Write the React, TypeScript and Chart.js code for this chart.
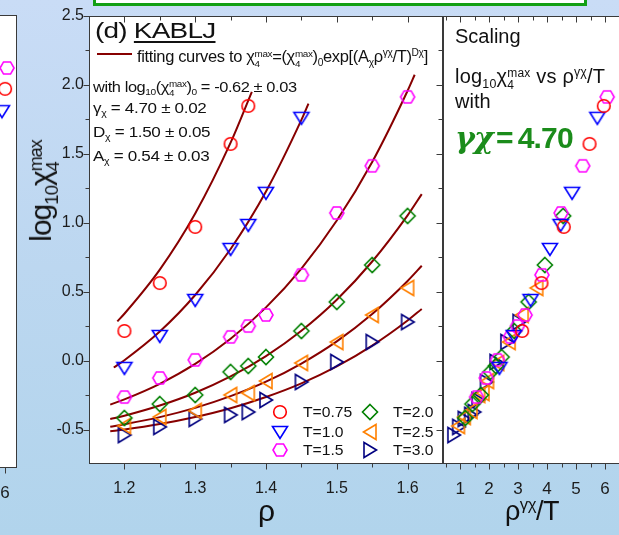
import React, { useEffect, useRef } from 'react';
import { Chart, registerables } from 'chart.js';

Chart.register(...registerables);

// ---------------- data ----------------
const RHO_075 = [1.2, 1.25, 1.3, 1.35, 1.375];
const LOGCHI_075 = [0.215, 0.563, 0.97, 1.572, 1.848];
const RHO_100 = [1.2, 1.25, 1.3, 1.35, 1.375, 1.4, 1.45];
const LOGCHI_100 = [-0.053, 0.179, 0.44, 0.81, 0.984, 1.217, 1.761];
const RHO_ALL = [1.2, 1.25, 1.3, 1.35, 1.375, 1.4, 1.45, 1.5, 1.55, 1.6];
const LOGCHI_150 = [-0.264, -0.126, 0.005, 0.172, 0.251, 0.331, 0.622, 1.071, 1.413, 1.913];
const LOGCHI_200 = [-0.416, -0.315, -0.249, -0.082, -0.039, 0.026, 0.215, 0.426, 0.694, 1.05];
const LOGCHI_250 = [-0.474, -0.409, -0.365, -0.249, -0.235, -0.148, -0.017, 0.135, 0.331, 0.527];
const LOGCHI_300 = [-0.54, -0.481, -0.423, -0.394, -0.373, -0.286, -0.155, -0.01, 0.135, 0.28];

// fitted curves
const FIT_RHO_075 = [1.19, 1.2, 1.25, 1.3, 1.35, 1.38];
const FIT_075 = [0.285, 0.34, 0.66, 1.067, 1.581, 1.95];
const FIT_RHO_100 = [1.185, 1.2, 1.25, 1.3, 1.35, 1.4, 1.45, 1.46];
const FIT_100 = [-0.05, 0.003, 0.211, 0.476, 0.81, 1.227, 1.746, 1.864];
const FIT_RHO_150 = [1.18, 1.2, 1.25, 1.3, 1.35, 1.4, 1.45, 1.5, 1.55, 1.6, 1.61];
const FIT_150 = [-0.319, -0.281, -0.168, -0.024, 0.158, 0.386, 0.668, 1.016, 1.441, 1.958, 2.074];
const FIT_RHO_HIGH = [1.18, 1.2, 1.25, 1.3, 1.35, 1.4, 1.45, 1.5, 1.55, 1.6, 1.62];
const FIT_200 = [-0.424, -0.4, -0.326, -0.233, -0.115, 0.033, 0.217, 0.442, 0.719, 1.054, 1.208];
const FIT_250 = [-0.48, -0.462, -0.41, -0.343, -0.258, -0.153, -0.021, 0.14, 0.338, 0.578, 0.688];
const FIT_300 = [-0.513, -0.5, -0.46, -0.409, -0.345, -0.264, -0.165, -0.042, 0.109, 0.291, 0.375];

const GAMMA = 4.7;

// fragment of the neighbouring panel at the left edge
const LEFT_X = [6.09, 6.01, 5.88];
const LEFT_Y = [2.12, 1.97, 1.81];

// ticks
const X_TICKS_MAIN = [1.2, 1.3, 1.4, 1.5, 1.6];
const X_LABELS_MAIN = ['1.2', '1.3', '1.4', '1.5', '1.6'];
const X_MINOR_MAIN = [1.25, 1.35, 1.45, 1.55];
const Y_TICKS = [-0.5, 0, 0.5, 1, 1.5, 2, 2.5];
const Y_LABELS = ['-0.5', '0.0', '0.5', '1.0', '1.5', '2.0', '2.5'];
const Y_MINOR = [-0.25, 0.25, 0.75, 1.25, 1.75, 2.25];
const X_TICKS_SCALED = [1, 2, 3, 4, 5, 6];
const X_LABELS_SCALED = ['1', '2', '3', '4', '5', '6'];
const X_MINOR_SCALED = [0.5, 1.5, 2.5, 3.5, 4.5, 5.5, 6.5];
const X_TICKS_LEFT = [6];
const X_LABELS_LEFT = ['6'];

// ---------------- styling ----------------
const FONT = '"Liberation Sans", Arial, Helvetica, sans-serif';
const AXIS = '#3a3a3a';
const FIT_COLOR = '#870000';

type Shape = 'circle' | 'down' | 'hex' | 'diamond' | 'left' | 'right';

const SERIES: { label: string; T: number; rho: number[]; y: number[]; fitRho: number[]; fit: number[]; color: string; shape: Shape }[] = [
  { label: 'T=0.75', T: 0.75, rho: RHO_075, y: LOGCHI_075, fitRho: FIT_RHO_075, fit: FIT_075, color: '#ff0000', shape: 'circle' },
  { label: 'T=1.0', T: 1.0, rho: RHO_100, y: LOGCHI_100, fitRho: FIT_RHO_100, fit: FIT_100, color: '#0000ff', shape: 'down' },
  { label: 'T=1.5', T: 1.5, rho: RHO_ALL, y: LOGCHI_150, fitRho: FIT_RHO_150, fit: FIT_150, color: '#ff00ff', shape: 'hex' },
  { label: 'T=2.0', T: 2.0, rho: RHO_ALL, y: LOGCHI_200, fitRho: FIT_RHO_HIGH, fit: FIT_200, color: '#008000', shape: 'diamond' },
  { label: 'T=2.5', T: 2.5, rho: RHO_ALL, y: LOGCHI_250, fitRho: FIT_RHO_HIGH, fit: FIT_250, color: '#ff8000', shape: 'left' },
  { label: 'T=3.0', T: 3.0, rho: RHO_ALL, y: LOGCHI_300, fitRho: FIT_RHO_HIGH, fit: FIT_300, color: '#000080', shape: 'right' },
];

function makeMarker(shape: Shape, color: string): HTMLCanvasElement {
  const size = 20;
  const c = document.createElement('canvas');
  c.width = size;
  c.height = size;
  const g = c.getContext('2d') as CanvasRenderingContext2D;
  const m = size / 2;
  g.strokeStyle = color;
  g.lineWidth = 1.6;
  g.beginPath();
  if (shape === 'circle') {
    g.arc(m, m, 6.3, 0, Math.PI * 2);
  } else if (shape === 'down') {
    g.moveTo(m - 7.5, m - 5.5);
    g.lineTo(m + 7.5, m - 5.5);
    g.lineTo(m, m + 6.5);
    g.closePath();
  } else if (shape === 'left') {
    g.moveTo(m - 6.5, m);
    g.lineTo(m + 6, m - 7.5);
    g.lineTo(m + 6, m + 7.5);
    g.closePath();
  } else if (shape === 'right') {
    g.moveTo(m + 6.5, m);
    g.lineTo(m - 6, m - 7.5);
    g.lineTo(m - 6, m + 7.5);
    g.closePath();
  } else if (shape === 'diamond') {
    g.moveTo(m, m - 7.5);
    g.lineTo(m + 7.5, m);
    g.lineTo(m, m + 7.5);
    g.lineTo(m - 7.5, m);
    g.closePath();
  } else {
    for (let i = 0; i < 6; i++) {
      const a = (Math.PI / 3) * i;
      const px = m + 7 * Math.cos(a);
      const py = m + 7 * Math.sin(a);
      if (i === 0) g.moveTo(px, py);
      else g.lineTo(px, py);
    }
    g.closePath();
  }
  g.stroke();
  return c;
}

type Side = 'out' | 'in' | 'none';
interface FrameCfg {
  xMajor: number[];
  xMinor: number[];
  yMajor: number[];
  yMinor: number[];
  left: Side;
  right: Side;
  top: Side;
  bottom: Side;
  borders: { left: boolean; right: boolean; top: boolean; bottom: boolean };
}

function framePlugin(cfg: FrameCfg) {
  return {
    id: 'frame',
    beforeDraw(chart: any) {
      const { ctx, chartArea: a } = chart;
      ctx.save();
      ctx.fillStyle = '#ffffff';
      ctx.fillRect(a.left, a.top, a.right - a.left, a.bottom - a.top);
      ctx.restore();
    },
    afterDraw(chart: any) {
      const { ctx, chartArea: a, scales } = chart;
      const xs = scales.x;
      const ys = scales.y;
      const L = Math.round(a.left) + 0.5;
      const R = Math.round(a.right) - 0.5;
      const T = Math.round(a.top) + 0.5;
      const B = Math.round(a.bottom) - 0.5;
      ctx.save();
      ctx.strokeStyle = AXIS;
      ctx.lineWidth = 1;
      ctx.beginPath();
      const seg = (x1: number, y1: number, x2: number, y2: number) => {
        ctx.moveTo(x1, y1);
        ctx.lineTo(x2, y2);
      };
      if (cfg.borders.left) seg(L, T - 0.5, L, B + 0.5);
      if (cfg.borders.right) seg(R, T - 0.5, R, B + 0.5);
      if (cfg.borders.top) seg(L - 0.5, T, R + 0.5, T);
      if (cfg.borders.bottom) seg(L - 0.5, B, R + 0.5, B);
      const xTicks = (vals: number[], len: number) => {
        vals.forEach((v) => {
          const p = Math.round(xs.getPixelForValue(v)) + 0.5;
          if (p < a.left - 1 || p > a.right + 1) return;
          if (cfg.bottom === 'out') seg(p, B, p, B + len);
          if (cfg.bottom === 'in') seg(p, B, p, B - len);
          if (cfg.top === 'in') seg(p, T, p, T + len);
          if (cfg.top === 'out') seg(p, T, p, T - len);
        });
      };
      const yTicks = (vals: number[], len: number) => {
        vals.forEach((v) => {
          const p = Math.round(ys.getPixelForValue(v)) + 0.5;
          if (p < a.top - 1 || p > a.bottom + 1) return;
          if (cfg.left === 'out') seg(L, p, L - len, p);
          if (cfg.left === 'in') seg(L, p, L + len, p);
          if (cfg.right === 'in') seg(R, p, R - len, p);
          if (cfg.right === 'out') seg(R, p, R + len, p);
        });
      };
      xTicks(cfg.xMajor, 6);
      xTicks(cfg.xMinor, 4);
      yTicks(cfg.yMajor, 6);
      yTicks(cfg.yMinor, 4);
      ctx.stroke();
      ctx.restore();
    },
  };
}

function legendPlugin(markers: HTMLCanvasElement[]) {
  // marker offsets relative to the chart area (2 columns x 3 rows)
  const cols = [191, 281];
  const rows = [396, 416, 434];
  return {
    id: 'legendMarkers',
    afterDraw(chart: any) {
      const { ctx, chartArea: a } = chart;
      markers.forEach((mk, i) => {
        const cx = a.left + cols[Math.floor(i / 3)];
        const cy = a.top + rows[i % 3];
        ctx.drawImage(mk, cx - mk.width / 2, cy - mk.height / 2);
      });
    },
  };
}

function labelFrom(ticks: number[], labels: string[]) {
  return (v: any) => {
    const i = ticks.findIndex((t) => Math.abs(t - Number(v)) < 1e-9);
    return i >= 0 ? labels[i] : '';
  };
}

function xScale(min: number, max: number, ticks: number[], labels: string[], height: number, size: number) {
  return {
    type: 'linear',
    min,
    max,
    grid: { display: false, drawTicks: false },
    border: { display: false },
    ticks: {
      padding: 15,
      autoSkip: false,
      maxRotation: 0,
      color: '#1c1c1c',
      font: { family: FONT, size },
      callback: labelFrom(ticks, labels),
    },
    afterBuildTicks: (s: any) => {
      s.ticks = ticks.map((v) => ({ value: v }));
    },
    afterFit: (s: any) => {
      s.height = height;
      s.paddingLeft = 0;
      s.paddingRight = 0;
    },
  };
}

function yScale(display: boolean, width: number) {
  return {
    type: 'linear',
    min: -0.75,
    max: 2.5,
    display,
    grid: { display: false, drawTicks: false },
    border: { display: false },
    ticks: {
      padding: 5,
      autoSkip: false,
      color: '#1c1c1c',
      font: { family: FONT, size: 16 },
      callback: labelFrom(Y_TICKS, Y_LABELS),
    },
    afterBuildTicks: (s: any) => {
      s.ticks = Y_TICKS.map((v) => ({ value: v }));
    },
    afterFit: (s: any) => {
      if (display) s.width = width;
      s.paddingTop = 0;
      s.paddingBottom = 0;
    },
  };
}

// ---------------- text helpers ----------------
const Sub = ({ children }: any) => (
  <span style={{ fontSize: '0.62em', position: 'relative', top: '0.35em' }}>{children}</span>
);
const Sup = ({ children }: any) => (
  <span style={{ fontSize: '0.62em', position: 'relative', top: '-0.6em' }}>{children}</span>
);
const SS = ({ sub, sup }: any) => (
  <span
    style={{
      display: 'inline-block',
      fontSize: '0.6em',
      lineHeight: 0.95,
      position: 'relative',
      top: '0.45em',
      verticalAlign: 'baseline',
      textAlign: 'left',
    }}
  >
    <span style={{ display: 'block' }}>{sup}</span>
    <span style={{ display: 'block' }}>{sub}</span>
  </span>
);

function Txt({ left, base, size, sx = 1, children, style }: any) {
  return (
    <div
      style={{
        position: 'absolute',
        left,
        top: base - 0.85 * size,
        fontSize: size,
        lineHeight: 1,
        whiteSpace: 'nowrap',
        fontFamily: FONT,
        color: '#111',
        transform: sx !== 1 ? `scaleX(${sx})` : undefined,
        transformOrigin: 'left center',
        ...style,
      }}
    >
      {children}
    </div>
  );
}

export default function App() {
  const mainRef = useRef<HTMLCanvasElement>(null);
  const rightRef = useRef<HTMLCanvasElement>(null);
  const leftRef = useRef<HTMLCanvasElement>(null);

  useEffect(() => {
    const markers = SERIES.map((s) => makeMarker(s.shape, s.color));

    const pointSets = SERIES.map((s, i) => ({
      label: s.label,
      data: s.rho.map((r, j) => ({ x: r, y: s.y[j] })),
      pointStyle: markers[i],
      pointRadius: 7,
      showLine: false,
      order: 0,
    }));
    const fitSets = SERIES.map((s) => ({
      label: 'fit ' + s.label,
      data: s.fitRho.map((r, j) => ({ x: r, y: s.fit[j] })),
      showLine: true,
      pointRadius: 0,
      borderColor: FIT_COLOR,
      borderWidth: 2,
      cubicInterpolationMode: 'monotone',
      order: 1,
    }));

    const common = {
      animation: false,
      responsive: false,
      maintainAspectRatio: false,
      events: [],
      plugins: { legend: { display: false }, tooltip: { enabled: false } },
    };

    const main = new Chart(mainRef.current as HTMLCanvasElement, {
      type: 'scatter',
      data: { datasets: [...pointSets, ...fitSets] as any },
      options: {
        ...common,
        layout: { autoPadding: false, padding: { left: 0, right: 2, top: 16, bottom: 0 } },
        scales: {
          x: xScale(1.15, 1.65, X_TICKS_MAIN, X_LABELS_MAIN, 71, 16) as any,
          y: yScale(true, 44) as any,
        },
      } as any,
      plugins: [
        framePlugin({
          xMajor: X_TICKS_MAIN,
          xMinor: X_MINOR_MAIN,
          yMajor: Y_TICKS,
          yMinor: Y_MINOR,
          left: 'out',
          right: 'in',
          top: 'in',
          bottom: 'out',
          borders: { left: true, right: true, top: true, bottom: true },
        }),
        legendPlugin(markers),
      ] as any,
    });

    const scaledSets = SERIES.map((s, i) => ({
      label: s.label,
      data: s.rho.map((r, j) => ({ x: Math.pow(r, GAMMA) / s.T, y: s.y[j] })),
      pointStyle: markers[i],
      pointRadius: 7,
      showLine: false,
    }));

    const right = new Chart(rightRef.current as HTMLCanvasElement, {
      type: 'scatter',
      data: { datasets: scaledSets as any },
      options: {
        ...common,
        layout: { autoPadding: false, padding: { left: 3, right: 0, top: 16, bottom: 0 } },
        scales: {
          x: xScale(0.41, 6.86, X_TICKS_SCALED, X_LABELS_SCALED, 71, 17) as any,
          y: yScale(false, 0) as any,
        },
      } as any,
      plugins: [
        framePlugin({
          xMajor: X_TICKS_SCALED,
          xMinor: X_MINOR_SCALED,
          yMajor: [],
          yMinor: [],
          left: 'none',
          right: 'none',
          top: 'in',
          bottom: 'out',
          borders: { left: true, right: false, top: true, bottom: true },
        }),
      ] as any,
    });

    const leftShapes: Shape[] = ['hex', 'circle', 'down'];
    const leftColors = ['#ff00ff', '#ff0000', '#0000ff'];
    const leftSets = LEFT_X.map((xv, i) => ({
      label: 'left' + i,
      data: [{ x: xv, y: LEFT_Y[i] }],
      pointStyle: makeMarker(leftShapes[i], leftColors[i]),
      pointRadius: 7,
      showLine: false,
    }));
    const left = new Chart(leftRef.current as HTMLCanvasElement, {
      type: 'scatter',
      data: { datasets: leftSets as any },
      options: {
        ...common,
        layout: { autoPadding: false, padding: { left: 0, right: 1, top: 15, bottom: 0 } },
        scales: {
          x: xScale(5.8, 6.5, X_TICKS_LEFT, X_LABELS_LEFT, 67, 17) as any,
          y: yScale(false, 0) as any,
        },
      } as any,
      plugins: [
        framePlugin({
          xMajor: X_TICKS_LEFT,
          xMinor: [],
          yMajor: [],
          yMinor: [],
          left: 'none',
          right: 'none',
          top: 'none',
          bottom: 'out',
          borders: { left: false, right: true, top: true, bottom: true },
        }),
      ] as any,
    });

    return () => {
      main.destroy();
      right.destroy();
      left.destroy();
    };
  }, []);

  const legendRows = [
    { label: SERIES[0].label, left: 303, base: 417 },
    { label: SERIES[1].label, left: 303, base: 437 },
    { label: SERIES[2].label, left: 303, base: 455 },
    { label: SERIES[3].label, left: 393, base: 417 },
    { label: SERIES[4].label, left: 393, base: 437 },
    { label: SERIES[5].label, left: 393, base: 455 },
  ];

  return (
    <div
      style={{
        position: 'fixed',
        left: 0,
        top: 0,
        width: 619,
        height: 535,
        overflow: 'hidden',
        background: 'linear-gradient(180deg, #c9dcf6 0%, #bcd7f0 50%, #b1d4ec 100%)',
        fontFamily: FONT,
      }}
    >
      {/* green framed box at top */}
      <div
        style={{
          position: 'absolute',
          left: 93,
          top: -14,
          width: 494,
          height: 20,
          boxSizing: 'border-box',
          border: '3px solid #14a014',
          background: '#ffffff',
        }}
      />

      <canvas ref={leftRef} width={18} height={535} style={{ position: 'absolute', left: 0, top: 0, width: 18, height: 535 }} />
      <canvas ref={mainRef} width={400} height={535} style={{ position: 'absolute', left: 45, top: 0, width: 400, height: 535 }} />
      <canvas ref={rightRef} width={190} height={535} style={{ position: 'absolute', left: 440, top: 0, width: 190, height: 535 }} />

      {/* y axis title */}
      <div
        style={{
          position: 'absolute',
          left: 38,
          top: 191,
          transform: 'translate(-50%, -50%) rotate(-90deg)',
          fontSize: 30,
          lineHeight: 1,
          whiteSpace: 'nowrap',
          color: '#111',
          letterSpacing: '-1px',
        }}
      >
        log<Sub>10</Sub>χ<SS sub="4" sup="max" />
      </div>

      {/* x axis titles */}
      <Txt left={258} base={521} size={30}>ρ</Txt>
      <Txt left={505} base={521} size={27} style={{ letterSpacing: '-0.5px' }}>
        ρ<Sup>γχ</Sup>/T
      </Txt>

      {/* panel (d) annotations */}
      <Txt left={95} base={39} size={22} sx={1.27} style={{ letterSpacing: '-0.6px' }}>
        (d){' '}
        <span style={{ textDecoration: 'underline', textDecorationThickness: '2px', textUnderlineOffset: '3px' }}>KABLJ</span>
      </Txt>
      <div style={{ position: 'absolute', left: 97, top: 53, width: 35, height: 2, background: FIT_COLOR }} />
      <Txt left={137} base={59} size={16.5} style={{ letterSpacing: '-0.35px' }}>
        fitting curves to χ<SS sub="4" sup="max" />=(χ<SS sub="4" sup="max" />)<Sub>0</Sub>exp[(A<Sub>χ</Sub>ρ<Sup>γχ</Sup>/T)<Sup>Dχ</Sup>]
      </Txt>
      <Txt left={93} base={89} size={15.5} sx={1.06} style={{ letterSpacing: '-0.4px' }}>
        with log<Sub>10</Sub>(χ<SS sub="4" sup="max" />)<Sub>0</Sub> = -0.62 ± 0.03
      </Txt>
      <Txt left={93} base={113} size={15.5} sx={1.1} style={{ letterSpacing: '-0.3px' }}>
        γ<Sub>χ</Sub> = 4.70 ± 0.02
      </Txt>
      <Txt left={93} base={137} size={15.5} sx={1.1} style={{ letterSpacing: '-0.3px' }}>
        D<Sub>χ</Sub> = 1.50 ± 0.05
      </Txt>
      <Txt left={93} base={161} size={15.5} sx={1.1} style={{ letterSpacing: '-0.3px' }}>
        A<Sub>χ</Sub> = 0.54 ± 0.03
      </Txt>

      {legendRows.map((r) => (
        <Txt key={r.label} left={r.left} base={r.base} size={14} sx={1.12}>
          {r.label}
        </Txt>
      ))}

      {/* right panel annotations */}
      <Txt left={455} base={43} size={20}>
        Scaling
      </Txt>
      <Txt left={455} base={80} size={20} style={{ letterSpacing: '0.2px' }}>
        log<Sub>10</Sub>χ<SS sub="4" sup="max" /> vs ρ<Sup>γχ</Sup>/T
      </Txt>
      <Txt left={455} base={108} size={20}>
        with
      </Txt>
      <Txt left={455} base={148} size={30} style={{ fontWeight: 'bold', color: '#1b8c1b', letterSpacing: '-0.8px' }}>
        <span style={{ fontFamily: '"DejaVu Serif", serif', fontStyle: 'italic' }}>γχ</span>
        <span style={{ marginLeft: 3 }}>=</span>
        <span style={{ marginLeft: 5 }}>4.70</span>
      </Txt>
    </div>
  );
}
